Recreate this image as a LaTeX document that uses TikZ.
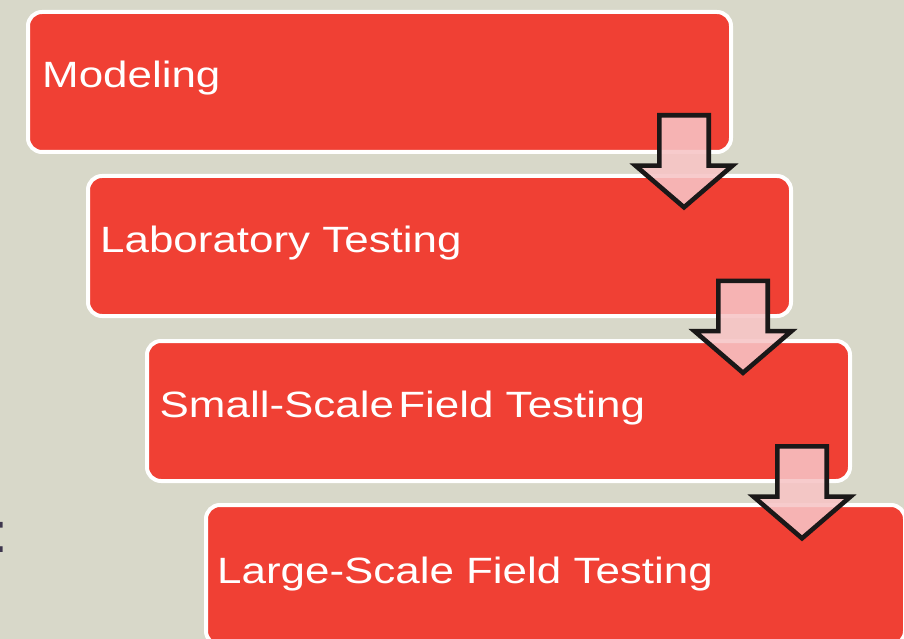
\documentclass[tikz,border=0pt]{standalone}
\usepackage{fontspec}
\newfontfamily\stagefont[FakeStretch=1.2]{Liberation Sans}
\newfontfamily\plainfont{Liberation Sans}
\definecolor{paper}{RGB}{216,216,201}
\definecolor{stagered}{RGB}{240,64,52}
\definecolor{arrowpink}{RGB}{247,196,197}
\definecolor{arrowline}{RGB}{26,24,24}
\definecolor{inkgrey}{RGB}{62,54,78}
\begin{document}
\begin{tikzpicture}[x=1pt,y=-1pt,
  stage/.style={draw=white, line width=4pt, fill=stagered, rounded corners=14pt,
    anchor=north west, inner sep=0pt, minimum height=140pt},
  stagetext/.style={anchor=base west, inner sep=0pt, text=white,
    font=\stagefont\fontsize{36.6}{40}\selectfont},
  downarrow/.pic={
    \draw[line width=4.6pt, draw=arrowline, fill=arrowpink, fill opacity=0.88,
      line join=miter, miter limit=10]
      (-24.7,0) -- (24.7,0) -- (24.7,50.3) -- (48.5,50.3) -- (0,92) -- (-48.5,50.3) -- (-24.7,50.3) -- cycle;
  }]
  % page and background
  \useasboundingbox (0,0) rectangle (904,639);
  \fill[paper] (0,0) rectangle (904,639);

  % colon of a heading running off the left edge
  \node[anchor=base west, inner sep=0pt, text=inkgrey,
    font=\plainfont\fontsize{57}{60}\selectfont] (colon) at (-8,552) {:};

  % the four stages
  \node[stage, minimum width=703pt] (modeling) at (26,10) {};
  \node[stage, minimum width=703pt] (lab)      at (86,174) {};
  \node[stage, minimum width=703pt] (small)    at (145,339) {};
  \node[stage, minimum width=699pt] (large)    at (204,503) {};

  \node[stagetext] (t1) at (42,87.3)  {Modeling};
  \node[stagetext] (t2) at (100,252.6) {Laboratory Testing};
  \node[stagetext] (t3) at (159.5,417.9) {Small-Scale\hspace{0.12em}Field Testing};
  \node[stagetext] (t4) at (217,583.2) {Large-Scale Field Testing};

  % block arrows between the stages
  \pic at (684,115.3) {downarrow};
  \pic at (743,280.8) {downarrow};
  \pic at (802,446.3) {downarrow};
\end{tikzpicture}
\end{document}
